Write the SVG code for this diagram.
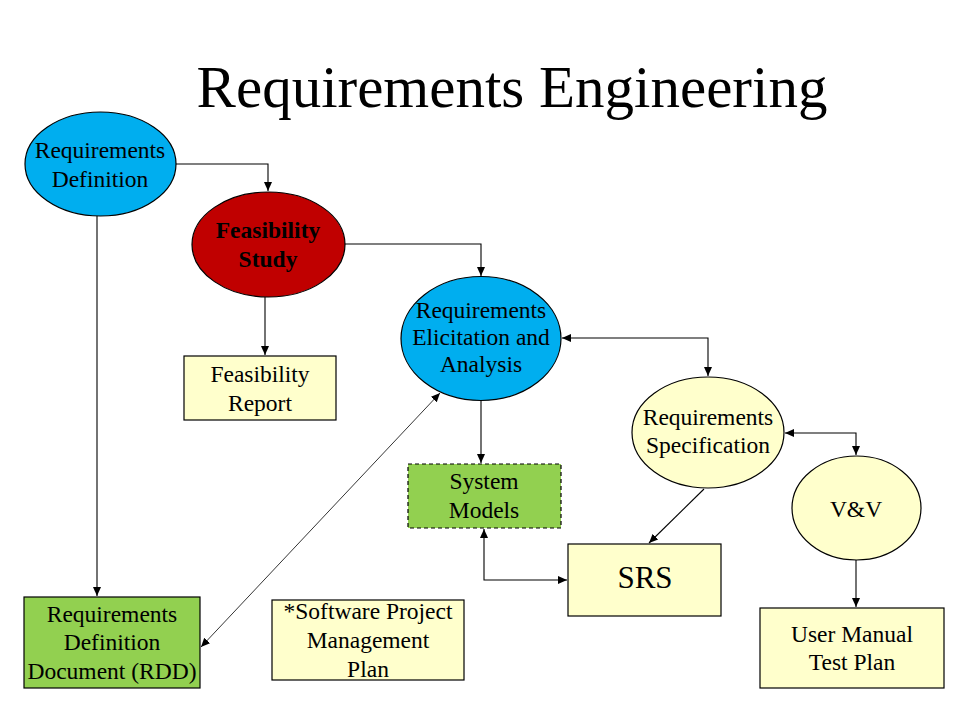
<svg xmlns="http://www.w3.org/2000/svg" width="960" height="720" viewBox="0 0 960 720">
<style>
text{font-family:"Liberation Serif","Times New Roman",serif;fill:#000;text-anchor:middle}
.t{font-size:23.5px}
.b{font-weight:bold}
.node{stroke:#000;stroke-width:1.2}
.blue{fill:#00AEEF}
.red{fill:#C00000}
.yel{fill:#FFFFCC}
.grn{fill:#92D050}
.conn path{fill:none;stroke:#000;stroke-width:1.1}
</style>
<defs>
<marker id="ah" markerWidth="10" markerHeight="10" refX="9" refY="5" orient="auto-start-reverse" markerUnits="userSpaceOnUse">
<path d="M0,1 L9,5 L0,9 Z" fill="#000"/>
</marker>
</defs>
<rect width="960" height="720" fill="#fff"/>
<text x="512" y="107" style="font-size:59px">Requirements Engineering</text>

<g class="conn">
<path d="M176,164 H268 V191" marker-end="url(#ah)"/>
<path d="M345,244 H481 V276" marker-end="url(#ah)"/>
<path d="M97,216 V596" marker-end="url(#ah)"/>
<path d="M265,297 V355" marker-end="url(#ah)"/>
<path d="M201,647 L440,393" marker-start="url(#ah)" marker-end="url(#ah)" style="stroke-width:0.8"/>
<path d="M562,338 H708 V376" marker-start="url(#ah)" marker-end="url(#ah)"/>
<path d="M481,401 V463" marker-end="url(#ah)"/>
<path d="M484,529 V580 H567" marker-start="url(#ah)" marker-end="url(#ah)"/>
<path d="M704,489 L649,543" marker-end="url(#ah)"/>
<path d="M785,433 H856 V455" marker-start="url(#ah)" marker-end="url(#ah)"/>
<path d="M856,560 V607" marker-end="url(#ah)"/>
</g>

<g id="req-def">
<ellipse class="node blue" cx="100.5" cy="164" rx="75.5" ry="52"/>
<text class="t" x="100" y="158">Requirements</text>
<text class="t" x="100" y="187">Definition</text>
</g>
<g id="feasibility-study">
<ellipse class="node red" cx="268.5" cy="244.5" rx="76.5" ry="52.5"/>
<text class="t b" x="268" y="238">Feasibility</text>
<text class="t b" x="268" y="267">Study</text>
</g>
<g id="feasibility-report">
<rect class="node yel" x="184" y="356" width="152" height="64"/>
<text class="t" x="260" y="382">Feasibility</text>
<text class="t" x="260" y="411">Report</text>
</g>
<g id="req-elicitation">
<ellipse class="node blue" cx="481" cy="338.5" rx="80" ry="62"/>
<text class="t" x="481" y="318">Requirements</text>
<text class="t" x="481" y="345">Elicitation and</text>
<text class="t" x="481" y="372">Analysis</text>
</g>
<g id="req-spec">
<ellipse class="node yel" cx="708" cy="432.5" rx="76" ry="55.5"/>
<text class="t" x="708" y="425">Requirements</text>
<text class="t" x="708" y="453">Specification</text>
</g>
<g id="system-models">
<rect class="node grn" x="408" y="464" width="153" height="64" style="stroke-dasharray:4,3"/>
<text class="t" x="484" y="489">System</text>
<text class="t" x="484" y="518">Models</text>
</g>
<g id="srs">
<rect class="node yel" x="568" y="544" width="153" height="72"/>
<text x="645" y="588" style="font-size:31px">SRS</text>
</g>
<g id="vv">
<ellipse class="node yel" cx="856.5" cy="508" rx="64.5" ry="52"/>
<text class="t" x="856" y="517">V&amp;V</text>
</g>
<g id="user-manual">
<rect class="node yel" x="760" y="608" width="184" height="80"/>
<text class="t" x="852" y="642">User Manual</text>
<text class="t" x="852" y="670">Test Plan</text>
</g>
<g id="rdd">
<rect class="node grn" x="24" y="597" width="176" height="91"/>
<text class="t" x="112" y="622">Requirements</text>
<text class="t" x="112" y="650">Definition</text>
<text class="t" x="112" y="679">Document (RDD)</text>
</g>
<g id="spmp">
<rect class="node yel" x="272" y="600" width="192" height="80"/>
<text class="t" x="368" y="619">*Software Project</text>
<text class="t" x="368" y="648">Management</text>
<text class="t" x="368" y="677">Plan</text>
</g>
</svg>
